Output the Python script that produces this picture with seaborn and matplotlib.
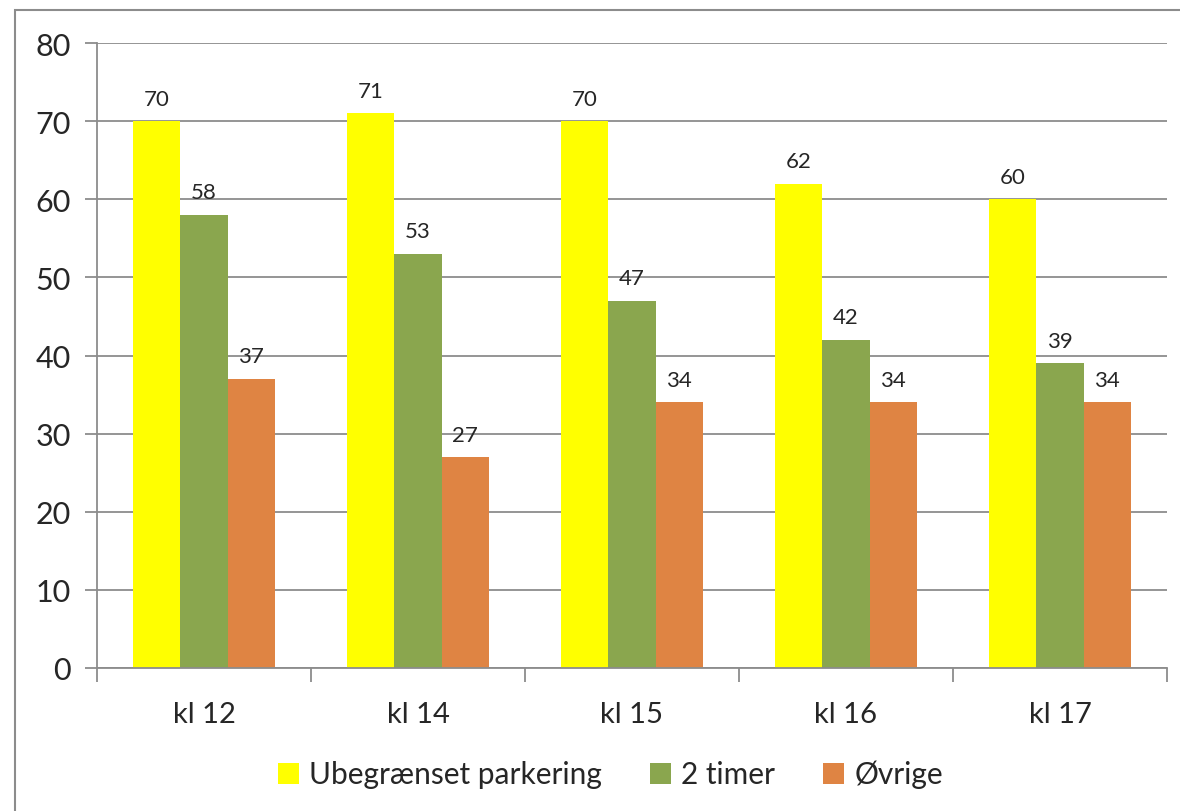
import pandas as pd
import matplotlib.pyplot as plt
import seaborn as sns
from matplotlib.patches import Rectangle

# data
categories = ["kl 12", "kl 14", "kl 15", "kl 16", "kl 17"]
series = ["Ubegrænset parkering", "2 timer", "Øvrige"]
ubegraenset = [70, 71, 70, 62, 60]
to_timer = [58, 53, 47, 42, 39]
ovrige = [37, 27, 34, 34, 34]
colors = ["#FFFF00", "#8AA64E", "#DF8443"]

df = pd.DataFrame(
    {
        "Tid": categories * 3,
        "Serie": [series[0]] * 5 + [series[1]] * 5 + [series[2]] * 5,
        "Antal": ubegraenset + to_timer + ovrige,
    }
)

sns.set_style("white")
plt.rcParams["font.family"] = ["Lato", "DejaVu Sans"]

fig = plt.figure(figsize=(11.8, 8.12), dpi=100)
ax = fig.add_axes([97 / 1180, 1 - 669 / 812, (1167 - 97) / 1180, (669 - 44) / 812])

sns.barplot(
    data=df, x="Tid", y="Antal", hue="Serie", palette=colors,
    width=0.66, gap=0, linewidth=0, saturation=1, ax=ax,
)

for cont in ax.containers:
    ax.bar_label(cont, padding=9, fontsize=16)

ax.set_ylim(0, 80)
ax.set_xlim(-0.5, 4.5)
ax.set_yticks(range(0, 81, 10))
ax.yaxis.grid(True, color="#8c8c8c", linewidth=1.3)
ax.set_axisbelow(True)
ax.set_xlabel("")
ax.set_ylabel("")

for side in ["top", "right"]:
    ax.spines[side].set_visible(False)
for side in ["left", "bottom"]:
    ax.spines[side].set_color("#8c8c8c")
    ax.spines[side].set_linewidth(1.3)

# category labels centred, ticks on the boundaries
ax.set_xticks([-0.5, 0.5, 1.5, 2.5, 3.5, 4.5], minor=False)
ax.set_xticklabels([])
ax.set_xticks(range(5), minor=True)
ax.set_xticklabels(categories, minor=True, fontsize=21)
ax.tick_params(axis="x", which="major", bottom=True, length=10, color="#8c8c8c", width=1.3, direction="out")
ax.tick_params(axis="x", which="minor", bottom=True, length=0, pad=24)
ax.tick_params(axis="y", left=True, length=9, color="#8c8c8c", width=1.3, labelsize=22, pad=10, direction="out")

leg = ax.legend(
    loc="center", bbox_to_anchor=(0.48, -0.17), ncol=3, frameon=False,
    fontsize=21.5, handlelength=0.7, handleheight=0.7, handletextpad=0.35,
    columnspacing=1.6,
)

# outer chart border like the Excel frame
fig.patches.append(
    Rectangle((15 / 1180, -0.01), 1.2, 1 - 11 / 812 + 0.01, transform=fig.transFigure,
              fill=False, edgecolor="#8c8c8c", linewidth=1.5)
)

fig.savefig("out.png", dpi=100)
